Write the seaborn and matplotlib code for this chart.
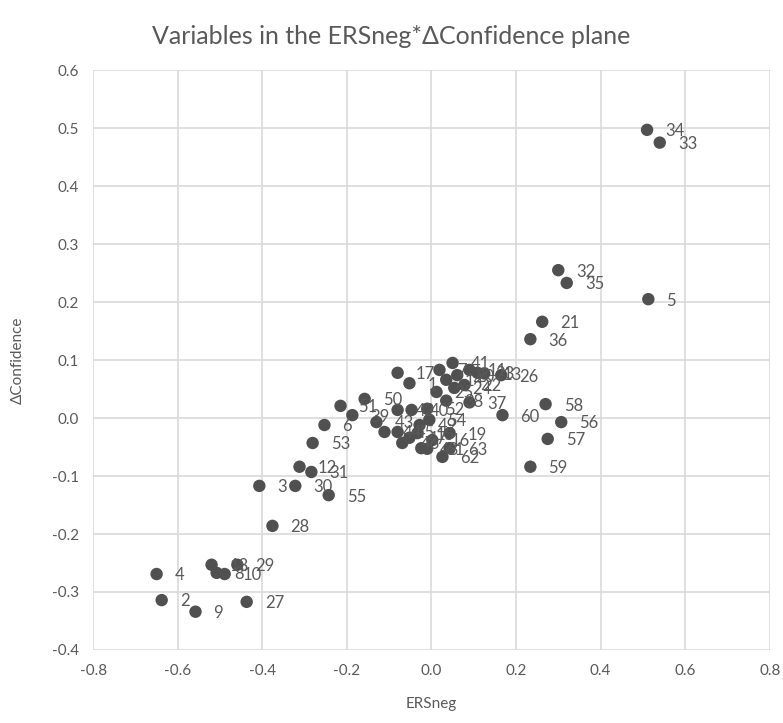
import pandas as pd
import seaborn as sns
import matplotlib.pyplot as plt

# variable numbers and their coordinates
labels = ['2', '3', '4', '5', '6', '8', '9', '10', '12', '13', '17', '18', '21', '26', '27',
          '28', '29', '30', '31', '32', '33', '34', '35', '36', '37', '38', '41', '50', '51',
          '52', '53', '55', '56', '57', '58', '59', '60',
          '1', '7', '11', '14', '15', '16', '19', '20', '22', '23', '24', '25', '39', '40',
          '42', '43', '44', '45', '46', '47', '48', '49', '54', '61', '62', '63']
ersneg = [-0.638, -0.407, -0.650, 0.513, -0.253, -0.508, -0.558, -0.489, -0.312, 0.125,
          -0.080, -0.520, 0.262, 0.165, -0.437, -0.376, -0.459, -0.322, -0.284, 0.300,
          0.540, 0.510, 0.320, 0.234, 0.090, 0.035, 0.050, -0.158, -0.215, -0.010,
          -0.281, -0.243, 0.307, 0.275, 0.270, 0.234, 0.168,
          -0.052, 0.019, 0.090, 0.035, -0.033, 0.002, 0.043, 0.061, 0.078, 0.109,
          0.054, 0.012, -0.187, -0.047, -0.080, -0.130, -0.111, -0.080, -0.069, -0.052,
          -0.024, -0.028, -0.005, -0.010, 0.026, 0.043]
dconf = [-0.314, -0.117, -0.269, 0.205, -0.012, -0.267, -0.334, -0.269, -0.084, 0.077,
         0.078, -0.253, 0.166, 0.074, -0.317, -0.186, -0.253, -0.117, -0.093, 0.255,
         0.475, 0.497, 0.233, 0.136, 0.027, 0.030, 0.095, 0.033, 0.021, 0.016,
         -0.043, -0.133, -0.007, -0.036, 0.024, -0.084, 0.005,
         0.060, 0.083, 0.083, 0.066, -0.026, -0.038, -0.026, 0.074, 0.057, 0.078,
         0.052, 0.045, 0.005, 0.014, 0.014, -0.007, -0.024, -0.024, -0.043, -0.034,
         -0.052, -0.012, -0.003, -0.053, -0.067, -0.052]

df = pd.DataFrame({'label': labels, 'ERSneg': ersneg, 'dConf': dconf})

sns.set_style('whitegrid')
plt.rcParams['font.family'] = ['Lato', 'DejaVu Sans']

fig = plt.figure(figsize=(7.83, 7.23), dpi=100)
ax = fig.add_axes([0.119, 0.101, 0.864, 0.802])

sns.scatterplot(data=df, x='ERSneg', y='dConf', color='#505050', s=80,
                edgecolor='none', ax=ax, zorder=3)

for _, r in df.iterrows():
    ax.annotate(r['label'], (r['ERSneg'], r['dConf']), xytext=(13, -1),
                textcoords='offset points', ha='left', va='center',
                fontsize=12, color='#595959', zorder=4)

ax.set_xlim(-0.8, 0.8)
ax.set_ylim(-0.4, 0.6)
ax.set_xticks([-0.8, -0.6, -0.4, -0.2, 0.0, 0.2, 0.4, 0.6, 0.8])
ax.set_yticks([-0.4, -0.3, -0.2, -0.1, 0.0, 0.1, 0.2, 0.3, 0.4, 0.5, 0.6])
ax.set_xticklabels(['-0.8', '-0.6', '-0.4', '-0.2', '0.0', '0.2', '0.4', '0.6', '0.8'])
ax.set_yticklabels(['-0.4', '-0.3', '-0.2', '-0.1', '0.0', '0.1', '0.2', '0.3', '0.4', '0.5', '0.6'])
ax.grid(True, color='#d9d9d9', linewidth=1.2)
for sp in ax.spines.values():
    sp.set_visible(False)
ax.tick_params(length=0, labelsize=11, labelcolor='#595959', pad=10)
ax.set_xlabel('ERSneg', fontsize=11, color='#595959', labelpad=14)
ax.set_ylabel('ΔConfidence', fontsize=11, color='#595959', labelpad=20)
fig.suptitle('Variables in the ERSneg*ΔConfidence plane', x=0.5, y=0.965,
             fontsize=18, color='#595959')

fig.savefig('out.png', dpi=100)
